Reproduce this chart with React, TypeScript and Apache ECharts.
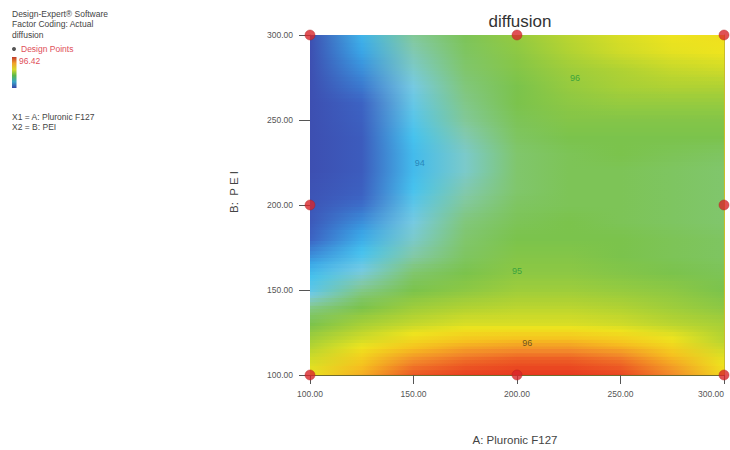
import React, { useEffect, useRef } from "react";
import * as echarts from "echarts";

// ---- data ----
const xNodes = [100, 125, 150, 175, 200, 225, 250, 275, 300];
const yRows = [300, 290, 280, 270, 260, 250, 240, 230, 220, 210, 200, 190, 180, 170, 160, 150, 140, 130, 120, 110, 100];
const zRows: number[][] = [
  [93.3, 94.0, 94.7, 94.95, 95.15, 95.35, 95.5, 95.6, 95.65],
  [93.3, 93.9, 94.6, 94.9, 95.1, 95.3, 95.45, 95.55, 95.6],
  [93.3, 93.8, 94.5, 94.85, 95.05, 95.2, 95.3, 95.4, 95.45],
  [93.3, 93.7, 94.4, 94.8, 95.0, 95.15, 95.25, 95.3, 95.3],
  [93.3, 93.6, 94.3, 94.75, 95.0, 95.1, 95.15, 95.15, 95.15],
  [93.3, 93.55, 94.2, 94.7, 94.95, 95.05, 95.05, 95.05, 95.05],
  [93.3, 93.5, 94.1, 94.6, 94.9, 95.0, 95.0, 95.0, 95.0],
  [93.3, 93.5, 94.05, 94.5, 94.85, 94.95, 95.0, 94.95, 94.9],
  [93.3, 93.5, 94.05, 94.5, 94.85, 94.95, 94.95, 94.9, 94.85],
  [93.35, 93.55, 94.1, 94.6, 94.85, 94.95, 94.95, 94.9, 94.85],
  [93.4, 93.65, 94.25, 94.7, 94.9, 94.95, 94.95, 94.9, 94.85],
  [93.45, 93.8, 94.4, 94.8, 94.95, 95.0, 94.95, 94.9, 94.85],
  [93.6, 93.95, 94.5, 94.85, 95.0, 95.0, 95.0, 94.95, 94.9],
  [93.8, 94.15, 94.65, 94.9, 95.05, 95.05, 95.0, 94.95, 94.9],
  [94.05, 94.45, 94.85, 95.0, 95.1, 95.1, 95.05, 95.0, 94.95],
  [94.25, 94.75, 95.0, 95.1, 95.2, 95.2, 95.15, 95.1, 95.0],
  [94.75, 95.0, 95.2, 95.3, 95.35, 95.35, 95.3, 95.2, 95.1],
  [95.0, 95.25, 95.4, 95.5, 95.5, 95.5, 95.45, 95.35, 95.25],
  [95.25, 95.5, 95.75, 95.9, 95.95, 95.95, 95.85, 95.65, 95.35],
  [95.45, 95.8, 96.1, 96.22, 96.28, 96.28, 96.2, 95.95, 95.55],
  [95.6, 96.0, 96.32, 96.4, 96.42, 96.42, 96.38, 96.15, 95.7],
];
const designPoints = [
  [100, 300], [200, 300], [300, 300],
  [100, 200], [300, 200],
  [100, 100], [200, 100], [300, 100],
];
const contourLabelTexts = ["94", "96", "95", "96"];
const contourLabelPos = [[153, 225], [228, 275], [200, 161], [205, 119]];
const axisTicks = { min: 100, max: 300, interval: 50 };
const legendLines = ["Design-Expert® Software", "Factor Coding: Actual", "diffusion"];
const maxLabel = "96.42";
const factorLines = ["X1 = A: Pluronic F127", "X2 = B: PEI"];

// ---- styles ----
const FONT = "Liberation Sans, Arial, sans-serif";
const PALETTE: [number, string][] = [
  [93.3, "#3d4fb1"],
  [93.6, "#3c63c3"],
  [93.9, "#3aa5e6"],
  [94.1, "#46c2ee"],
  [94.4, "#76cae2"],
  [94.65, "#82c9a6"],
  [94.85, "#80c66c"],
  [95.0, "#7bc34c"],
  [95.3, "#b0d233"],
  [95.6, "#eee41e"],
  [95.9, "#f6c11f"],
  [96.15, "#f2872a"],
  [96.42, "#e8361f"],
];
const contourLabelColors = ["#1e78ae", "#23983c", "#23983c", "#4a3a20"];
const SUB = 5; // sub-strips per row band (display shading only)

function hexToRgb(h: string) {
  const n = parseInt(h.slice(1), 16);
  return [(n >> 16) & 255, (n >> 8) & 255, n & 255];
}
function colorOf(v: number): string {
  if (v <= PALETTE[0][0]) return PALETTE[0][1];
  for (let i = 1; i < PALETTE.length; i++) {
    const [v1, c1] = PALETTE[i];
    const [v0, c0] = PALETTE[i - 1];
    if (v <= v1) {
      const t = (v - v0) / (v1 - v0);
      const a = hexToRgb(c0), b = hexToRgb(c1);
      const r = a.map((x, k) => Math.round(x + (b[k] - x) * t));
      return `rgb(${r[0]},${r[1]},${r[2]})`;
    }
  }
  return PALETTE[PALETTE.length - 1][1];
}

export default function App() {
  const ref = useRef<HTMLDivElement>(null);
  useEffect(() => {
    if (!ref.current) return;
    const chart = echarts.init(ref.current, undefined, { renderer: "svg" });
    const rowStep = 10;
    const xLo = xNodes[0], xHi = xNodes[xNodes.length - 1];
    const option: any = {
      animation: false,
      backgroundColor: "#ffffff",
      title: {
        text: "diffusion",
        left: 515,
        top: 8,
        textAlign: "center",
        textStyle: { fontFamily: FONT, fontSize: 17, fontWeight: "normal", color: "#333" },
      },
      grid: { left: 310, top: 35, right: 6, bottom: 75, show: false, containLabel: false, outerBoundsMode: "none" },
      xAxis: [
        {
          type: "value",
          ...axisTicks,
          axisLine: { show: true, lineStyle: { color: "#6f6c2c", width: 1 } },
          axisTick: { show: true, length: 9, lineStyle: { color: "#555" } },
          axisLabel: {
            margin: 14,
            fontFamily: FONT,
            fontSize: 8.5,
            color: "#555",
            alignMaxLabel: "right",
            formatter: (v: number) => v.toFixed(2),
          },
          splitLine: { show: false },
        },
        {
          type: "value",
          position: "top",
          ...axisTicks,
          axisLine: { show: true, lineStyle: { color: "#c9bc2a", width: 1 } },
          axisTick: { show: false },
          axisLabel: { show: false },
          splitLine: { show: false },
        },
      ],
      yAxis: [
        {
          type: "value",
          ...axisTicks,
          axisLine: { show: true, lineStyle: { color: "#777", width: 1 } },
          axisTick: { show: true, length: 11, lineStyle: { color: "#555" } },
          axisLabel: {
            margin: 17,
            fontFamily: FONT,
            fontSize: 8.5,
            color: "#555",
            formatter: (v: number) => v.toFixed(2),
          },
          splitLine: { show: false },
        },
        {
          type: "value",
          position: "right",
          ...axisTicks,
          axisLine: { show: true, lineStyle: { color: "#c9bc2a", width: 1 } },
          axisTick: { show: false },
          axisLabel: { show: false },
          splitLine: { show: false },
        },
      ],
      graphic: [
        ...legendLines.map((t, i) => ({
          type: "text",
          left: 12,
          top: 9 + i * 10.5,
          style: { text: t, fontFamily: FONT, fontSize: 8.5, fill: "#444" },
        })),
        { type: "circle", shape: { cx: 14, cy: 49, r: 2 }, style: { fill: "#555" } },
        {
          type: "text",
          left: 21,
          top: 44,
          style: { text: "Design Points", fontFamily: FONT, fontSize: 8.5, fill: "#e0505a" },
        },
        {
          type: "rect",
          shape: { x: 12, y: 57, width: 4.5, height: 31 },
          style: {
            fill: new echarts.graphic.LinearGradient(0, 0, 0, 1, [
              { offset: 0, color: "#c0392b" },
              { offset: 0.2, color: "#f2a02a" },
              { offset: 0.4, color: "#d8d828" },
              { offset: 0.6, color: "#58b84a" },
              { offset: 0.8, color: "#3aa5c8" },
              { offset: 1, color: "#3545a8" },
            ]),
          },
        },
        {
          type: "text",
          left: 19,
          top: 56,
          style: { text: maxLabel, fontFamily: FONT, fontSize: 8.5, fill: "#e0505a" },
        },
        ...factorLines.map((t, i) => ({
          type: "text",
          left: 12,
          top: 112 + i * 10,
          style: { text: t, fontFamily: FONT, fontSize: 8.5, fill: "#444" },
        })),
        {
          type: "text",
          x: 234,
          y: 192,
          rotation: Math.PI / 2,
          style: {
            text: "B:  P E I",
            fontFamily: FONT,
            fontSize: 11.5,
            fill: "#444",
            align: "center",
            verticalAlign: "middle",
          },
        },
        {
          type: "text",
          x: 515,
          y: 440,
          style: {
            text: "A: Pluronic F127",
            fontFamily: FONT,
            fontSize: 11.5,
            fill: "#444",
            align: "center",
            verticalAlign: "middle",
          },
        },
      ],
      series: [
        {
          type: "custom",
          coordinateSystem: "cartesian2d",
          xAxisIndex: 0,
          yAxisIndex: 0,
          clip: true,
          silent: true,
          z: 1,
          data: yRows.map((y, j) => [200, y, j]),
          encode: { x: 0, y: 1 },
          renderItem: (params: any, api: any) => {
            const j = api.value(2);
            const y = yRows[j];
            const children: any[] = [];
            for (let s = 0; s < SUB; s++) {
              const d0 = -rowStep / 2 + (s * rowStep) / SUB;
              const d1 = d0 + rowStep / SUB;
              const dc = (d0 + d1) / 2;
              const yb = Math.max(axisTicks.min, y + d0);
              const yt = Math.min(axisTicks.max, y + d1);
              if (yt <= yb) continue;
              const nb = dc > 0 ? j - 1 : j + 1;
              const w = Math.abs(dc) / rowStep;
              const p0 = api.coord([xLo, yt]);
              const p1 = api.coord([xHi, yb]);
              const stops = xNodes.map((x, i) => {
                const own = zRows[j][i];
                const other = zRows[nb] ? zRows[nb][i] : own;
                return {
                  offset: (x - xLo) / (xHi - xLo),
                  color: colorOf(own + (other - own) * w),
                };
              });
              children.push({
                type: "rect",
                shape: { x: p0[0], y: p0[1] - 0.4, width: p1[0] - p0[0], height: p1[1] - p0[1] + 0.8 },
                style: { fill: new echarts.graphic.LinearGradient(0, 0, 1, 0, stops) },
              });
            }
            return { type: "group", children };
          },
        },
        {
          type: "scatter",
          xAxisIndex: 0,
          yAxisIndex: 0,
          clip: false,
          z: 5,
          symbolSize: 0,
          data: contourLabelPos.map((p, i) => ({
            value: p,
            label: {
              show: true,
              position: "inside",
              formatter: contourLabelTexts[i],
              fontFamily: FONT,
              fontSize: 9,
              color: contourLabelColors[i],
            },
          })),
        },
        {
          type: "scatter",
          xAxisIndex: 0,
          yAxisIndex: 0,
          clip: false,
          z: 10,
          symbol: "circle",
          symbolSize: 10,
          itemStyle: { color: "#d8262a", borderColor: "#b01c1c", borderWidth: 0.5 },
          data: designPoints,
        },
      ],
    };
    chart.setOption(option);
    return () => chart.dispose();
  }, []);
  return (
    <div
      ref={ref}
      style={{ position: "fixed", left: 0, top: 0, width: 730, height: 450 }}
    />
  );
}
